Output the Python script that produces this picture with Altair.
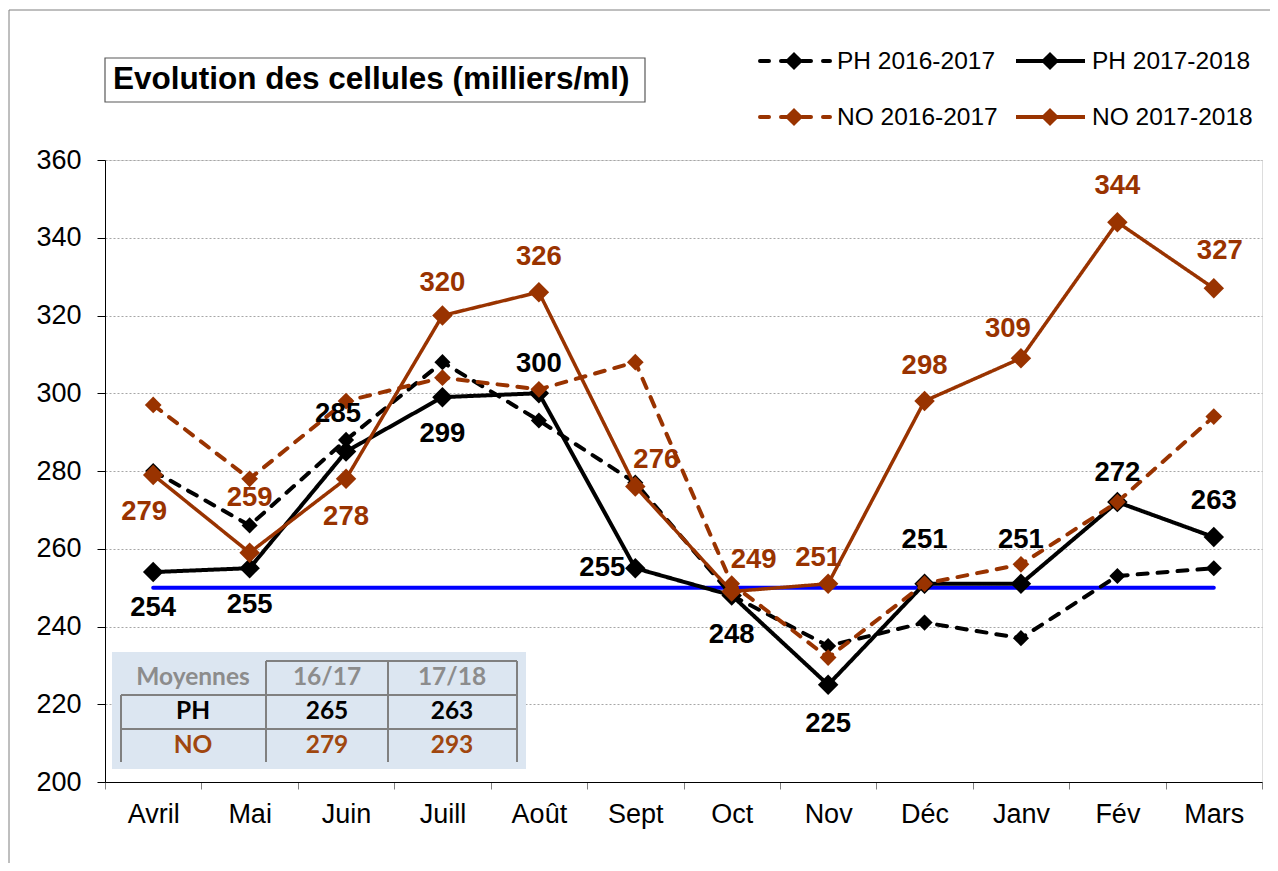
import altair as alt
import pandas as pd

# ---------------- data ----------------
MONTHS = ["Avril", "Mai", "Juin", "Juill", "Août", "Sept", "Oct", "Nov", "Déc", "Janv", "Fév", "Mars"]
PH_1617 = [280, 266, 288, 308, 293, 277, 248, 235, 241, 237, 253, 255]
PH_1718 = [254, 255, 285, 299, 300, 255, 248, 225, 251, 251, 272, 263]
NO_1617 = [297, 278, 298, 304, 301, 308, 251, 232, 251, 256, 272, 294]
NO_1718 = [279, 259, 278, 320, 326, 276, 249, 251, 298, 309, 344, 327]
SEUIL = 250
SERIES = ["PH 2016-2017", "PH 2017-2018", "NO 2016-2017", "NO 2017-2018"]
Y_TICKS = [200, 220, 240, 260, 280, 300, 320, 340, 360]

TITLE = "Evolution des cellules (milliers/ml)"
TABLE_HEAD = ["Moyennes", "16/17", "17/18"]
TABLE_ROWS = ["PH", "NO"]
MOY_1617 = [265, 279]
MOY_1718 = [263, 293]

# label placement (pixel offsets from the point) -- styling only
PH_DX = [0, 0, -8, 0, 0, -33, 0, 0, 0, 0, 0, 0]
PH_DY = [36, 37, -38, 37, -29, 0, 40, 39, -44, -44, -29, -36]
NO_DX = [-9, 0, 0, 0, 0, 21, 22, -10, 0, -13, 0, 6]
NO_DY = [37, -55, 38, -33, -35, -27, -32, -26, -35, -29, -36, -37]

# ---------------- styles ----------------
BLACK = "#000000"
BROWN = "#993300"
BROWN_TXT = "#a0470f"
BLUE = "#0000ff"
FONT = "Liberation Sans"
W, H = 1157, 622

STYLE = {
    "PH 2016-2017": dict(color=BLACK, dash=[10, 10], size=260, width=4),
    "PH 2017-2018": dict(color=BLACK, dash=[1, 0], size=420, width=4),
    "NO 2016-2017": dict(color=BROWN, dash=[10, 10], size=280, width=4),
    "NO 2017-2018": dict(color=BROWN, dash=[1, 0], size=420, width=3.5),
}
VALUES = {"PH 2016-2017": PH_1617, "PH 2017-2018": PH_1718,
          "NO 2016-2017": NO_1617, "NO 2017-2018": NO_1718}

x_enc = alt.X(
    "month:N", sort=MONTHS, bandPosition=0.5,
    scale=alt.Scale(type="band", domain=MONTHS, paddingInner=0, paddingOuter=0),
    axis=alt.Axis(title=None, labelFontSize=27, labelFont=FONT, labelColor="black",
                  labelAngle=0, tickBand="extent", tickSize=7, tickColor="#808080",
                  tickWidth=1, domainColor="black", domainWidth=1, labelPadding=12,
                  grid=False),
)
y_enc = alt.Y(
    "value:Q",
    scale=alt.Scale(domain=[200, 360], nice=False, zero=False),
    axis=alt.Axis(values=Y_TICKS, title=None, labelFontSize=27, labelFont=FONT,
                  labelColor="black", tickSize=8, tickColor="black", domainColor="black",
                  domainWidth=1, labelPadding=16, gridColor="#a6a6a6", gridDash=[2, 2],
                  gridWidth=1),
)

layers = []

# outer frame
one = pd.DataFrame({"a": [0]})
layers.append(alt.Chart(one).mark_rect(fillOpacity=0, stroke="#7f7f7f", strokeWidth=1).encode(
    x=alt.value(-96), x2=alt.value(1190), y=alt.value(-150), y2=alt.value(730)))

# threshold line
seuil_df = pd.DataFrame({"month": MONTHS, "value": [SEUIL] * len(MONTHS)})
layers.append(alt.Chart(seuil_df).mark_line(color=BLUE, strokeWidth=4, strokeCap="round").encode(
    x=x_enc, y=y_enc))

# series lines + points
for s in SERIES:
    st = STYLE[s]
    df = pd.DataFrame({"month": MONTHS, "value": VALUES[s]})
    layers.append(alt.Chart(df).mark_line(color=st["color"], strokeWidth=st["width"],
                                          strokeDash=st["dash"], strokeCap="round" if st["dash"][1] else "butt",
                                          strokeJoin="miter").encode(x=x_enc, y=y_enc))
    layers.append(alt.Chart(df).mark_point(shape="diamond", filled=True, opacity=1,
                                           color=st["color"], size=st["size"]).encode(x=x_enc, y=y_enc))

# data labels
for vals, dxs, dys, col in [(PH_1718, PH_DX, PH_DY, BLACK), (NO_1718, NO_DX, NO_DY, BROWN)]:
    df = pd.DataFrame({"month": MONTHS, "value": vals, "dx": dxs, "dy": dys})
    layers.append(alt.Chart(df).mark_text(
        font=FONT, fontSize=27.5, fontWeight="bold", color=col, align="center", baseline="middle",
        dx=alt.ExprRef(expr="datum.dx"), dy=alt.ExprRef(expr="datum.dy"),
    ).encode(x=x_enc, y=y_enc, text=alt.Text("value:Q")))

# title box
layers.append(alt.Chart(one).mark_rect(fill="white", stroke="#595959", strokeWidth=1.2).encode(
    x=alt.value(0), x2=alt.value(540), y=alt.value(-102), y2=alt.value(-58)))
layers.append(alt.Chart(one).mark_text(text=TITLE, font=FONT, fontSize=31.5, fontWeight="bold",
                                       align="left", baseline="middle", color="black").encode(
    x=alt.value(8), y=alt.value(-80)))

# custom legend
LEG_COLS = [(655, 725, 689, 732), (911, 980, 945, 987)]
LEG_ROWS = [-99, -43]
for i, s in enumerate(SERIES):
    st = STYLE[s]
    x1, x2, xd, xt = LEG_COLS[i % 2]
    yy = LEG_ROWS[i // 2]
    layers.append(alt.Chart(one).mark_rule(color=st["color"], strokeWidth=4,
                                           strokeDash=[9, 12] if st["dash"][1] else [1, 0],
                                           strokeCap="round" if st["dash"][1] else "butt").encode(
        x=alt.value(x1), x2=alt.value(x2), y=alt.value(yy)))
    layers.append(alt.Chart(one).mark_point(shape="diamond", filled=True, opacity=1,
                                            color=st["color"], size=330).encode(
        x=alt.value(xd), y=alt.value(yy)))
    layers.append(alt.Chart(one).mark_text(text=s, font=FONT, fontSize=24.5, align="left",
                                           baseline="middle", color="black").encode(
        x=alt.value(xt), y=alt.value(yy + 1)))

# averages table
layers.append(alt.Chart(one).mark_rect(fill="#dce6f1").encode(
    x=alt.value(7), x2=alt.value(421), y=alt.value(492), y2=alt.value(609)))
GRID = "#808080"
SEGS = [  # (x1, x2, y1, y2)
    (161, 412, 501, 501), (16, 412, 535, 535), (16, 412, 569, 569),
    (16, 16, 535, 602), (161, 161, 501, 602), (283, 283, 501, 602), (412, 412, 501, 602),
]
for a, b, c, d in SEGS:
    layers.append(alt.Chart(one).mark_rule(color=GRID, strokeWidth=2).encode(
        x=alt.value(a), x2=alt.value(b), y=alt.value(c), y2=alt.value(d)))
COL_X = [88, 222, 347]
ROW_Y = [518, 552, 586]
ROW_COL = ["#8c8c8c", BLACK, BROWN_TXT]
cells = [TABLE_HEAD,
         [TABLE_ROWS[0], str(MOY_1617[0]), str(MOY_1718[0])],
         [TABLE_ROWS[1], str(MOY_1617[1]), str(MOY_1718[1])]]
for r, row in enumerate(cells):
    for c, txt in enumerate(row):
        layers.append(alt.Chart(one).mark_text(text=txt, font="Lato", fontSize=24.5, fontWeight="bold",
                                               align="center", baseline="middle",
                                               color=ROW_COL[r]).encode(
            x=alt.value(COL_X[c]), y=alt.value(ROW_Y[r])))

chart = alt.layer(*layers).properties(
    width=W, height=H,
    autosize=alt.AutoSizeParams(type="none"),
    padding={"left": 97, "top": 152, "right": 8, "bottom": 81},
).configure_view(stroke=None).configure(background="white")

chart.save("out.html", embed_options={"renderer": "svg", "actions": False})
